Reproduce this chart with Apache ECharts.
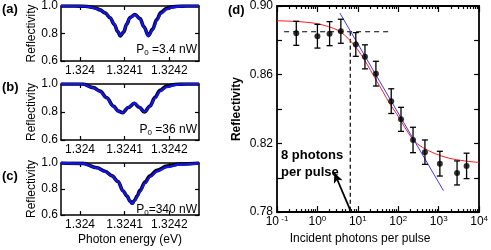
<!DOCTYPE html>
<html><head><meta charset="utf-8">
<script src="https://cdn.jsdelivr.net/npm/echarts@6/dist/echarts.min.js"></script>
<style>html,body{margin:0;padding:0;background:#fff}#c{width:491px;height:250px}</style>
</head><body><div id="c"></div>
<script>
// ---------- Panels (a)-(c): spectra ----------
const energyA = [1.3239574,1.3239888,1.3240112,1.3240224,1.3240336,1.3240448,1.3240560,1.3240672,1.3240768,1.3240844,1.3240903,1.3240979,1.3241046,1.3241120,1.3241232,1.3241344,1.3241433,1.3241530,1.3241628,1.3241718,1.3241814,1.3241942,1.3242060,1.3242195,1.3242374,1.3242665];
const fitA  = [1.0,1.0,0.997,0.993,0.984,0.971,0.952,0.917,0.869,0.817,0.785,0.814,0.869,0.915,0.936,0.905,0.845,0.781,0.826,0.893,0.945,0.976,0.989,0.996,1.0,1.0];
const measA = [1.0,1.0,0.998,0.994,0.986,0.972,0.950,0.915,0.866,0.814,0.783,0.812,0.868,0.916,0.938,0.908,0.848,0.784,0.832,0.902,0.955,0.984,0.994,0.998,1.0,1.0];

const energyB = [1.3239574,1.3240067,1.3240298,1.3240448,1.3240598,1.3240746,1.3240858,1.3240952,1.3241082,1.3241216,1.3241328,1.3241440,1.3241568,1.3241680,1.3241792,1.3241942,1.3242166,1.3242374,1.3242665];
const fitB  = [1.0,0.999,0.972,0.947,0.900,0.841,0.805,0.794,0.833,0.865,0.836,0.801,0.841,0.900,0.947,0.979,0.995,1.0,1.0];
const measB = [1.0,1.0,0.974,0.949,0.902,0.843,0.806,0.795,0.832,0.862,0.834,0.800,0.843,0.905,0.955,0.986,0.998,1.0,1.0];

const energyC = [1.3239574,1.3240067,1.3240381,1.3240560,1.3240717,1.3240851,1.3240963,1.3241053,1.3241120,1.3241171,1.3241221,1.3241277,1.3241344,1.3241456,1.3241568,1.3241725,1.3241948,1.3242240,1.3242665];
const fitC  = [1.0,0.996,0.962,0.935,0.900,0.858,0.785,0.746,0.708,0.688,0.708,0.740,0.780,0.844,0.893,0.935,0.969,0.988,0.998];
const measC = [1.0,0.997,0.963,0.936,0.901,0.858,0.786,0.745,0.707,0.690,0.712,0.745,0.790,0.854,0.902,0.944,0.976,0.992,1.0];

const energyTicks = [1.324, 1.3241, 1.3242];
const reflTicksLeft = [0.6, 0.8, 1.0];
const powerLabels = ['3.4', '36', '340'];

// ---------- Panel (d): saturation ----------
const photons = [0.3, 1.0, 2.0, 3.8, 8.9, 15, 28, 67, 117, 232, 457, 1070, 2850, 4900];
const refl    = [0.8841, 0.8824, 0.8839, 0.8853, 0.8776, 0.8704, 0.8606, 0.8446, 0.8340, 0.8220, 0.8149, 0.8082, 0.8028, 0.8069];
const reflErr = [0.0070, 0.0069, 0.0070, 0.0070, 0.0069, 0.0070, 0.0072, 0.0072, 0.0070, 0.0074, 0.0071, 0.0072, 0.0070, 0.0074];
const redFitX = [0.1, 0.3, 0.9, 1.88, 3.27, 4.73, 6.82, 9.9, 14.3, 20.7, 29.9, 43.4, 62.5, 90.6, 228, 397, 829, 1729, 4355, 10000];
const redFitY = [0.8914, 0.8910, 0.8899, 0.8880, 0.8858, 0.8830, 0.8793, 0.8746, 0.8690, 0.8625, 0.8560, 0.8494, 0.8429, 0.8373, 0.8224, 0.8177, 0.8140, 0.8115, 0.8098, 0.8089];
const blueFitX = [3.59, 1312];
const blueFitY = [0.8959, 0.7925];
const hDashX = [0.15, 57];
const hDashY = [0.885, 0.885];
const vDashX = [6.5, 6.5];
const vDashY = [0.885, 0.78];
const arrowFrom = [6.35, 0.7817];
const arrowTo = [2.62, 0.8029];
const logMajorTicks = [0.1, 1, 10, 100, 1000, 10000];
const logMinorTicks = [];
for (let d = -1; d <= 3; d++) for (let m = 2; m <= 9; m++) logMinorTicks.push(+(m * Math.pow(10, d)).toPrecision(3));

const FONT = '"Liberation Sans", Arial, sans-serif';
const E_MIN = 1.3239574, E_MAX = 1.3242665;

const leftGrids = [
  {left: 61, width: 138, top: 5, height: 56},
  {left: 61, width: 138, top: 84, height: 56},
  {left: 61, width: 138, top: 163, height: 52}
];
const grids = leftGrids.concat([{left: 277, right: 6, top: 5, bottom: 31}]);

const xAxes = [], yAxes = [];
leftGrids.forEach((g, i) => {
  const last = i === 2;
  xAxes.push({type: 'value', gridIndex: i, position: 'bottom', min: E_MIN, max: E_MAX,
    axisLine: {show: true, onZero: false, lineStyle: {color: '#000', width: 1.5}},
    axisTick: {show: true, inside: true, length: 4, customValues: energyTicks, lineStyle: {color: '#000', width: 1.2}},
    axisLabel: {show: true, customValues: energyTicks, formatter: v => String(+(+v).toFixed(4)), margin: 4, fontSize: 12, color: '#000', fontFamily: FONT},
    splitLine: {show: false},
    name: last ? 'Photon energy (eV)' : '', nameLocation: 'middle', nameGap: 19,
    nameTextStyle: {fontSize: 12, color: '#000', fontFamily: FONT}});
  xAxes.push({type: 'value', gridIndex: i, position: 'top', min: E_MIN, max: E_MAX,
    axisLine: {show: true, onZero: false, lineStyle: {color: '#000', width: 1.5}},
    axisTick: {show: true, inside: true, length: 4, customValues: energyTicks, lineStyle: {color: '#000', width: 1.2}},
    axisLabel: {show: false}, splitLine: {show: false}});
  yAxes.push({type: 'value', gridIndex: i, position: 'left', min: 0.6, max: 1.0,
    axisLine: {show: true, onZero: false, lineStyle: {color: '#000', width: 1.5}},
    axisTick: {show: true, inside: true, length: 4, customValues: reflTicksLeft, lineStyle: {color: '#000', width: 1.2}},
    axisLabel: {show: true, customValues: reflTicksLeft, formatter: v => (+v).toFixed(1), margin: 3, fontSize: 12, color: '#000', fontFamily: FONT},
    splitLine: {show: false},
    name: 'Reflectivity', nameLocation: 'middle', nameGap: 23,
    nameTextStyle: {fontSize: 12, color: '#000', fontFamily: FONT}});
  yAxes.push({type: 'value', gridIndex: i, position: 'right', min: 0.6, max: 1.0,
    axisLine: {show: true, onZero: false, lineStyle: {color: '#000', width: 1.5}},
    axisTick: {show: true, inside: true, length: 4, customValues: reflTicksLeft, lineStyle: {color: '#000', width: 1.2}},
    axisLabel: {show: false}, splitLine: {show: false}});
});

function logAxis(pos, minor, labels) {
  return {type: 'log', logBase: 10, gridIndex: 3, position: pos, min: 0.1, max: 10000, offset: 0,
    axisLine: {show: !minor, onZero: false, lineStyle: {color: '#000', width: 1.8}},
    axisTick: {show: true, inside: true, length: minor ? 3 : 6, customValues: minor ? logMinorTicks : logMajorTicks, lineStyle: {color: '#000', width: 1.2}},
    axisLabel: {show: labels, customValues: logMajorTicks, margin: 3, color: '#000', fontFamily: FONT,
      formatter: v => { const e = Math.round(Math.log10(v)); return '{b|10}{s|' + (e < 0 ? ' ' + e : e) + '}'; },
      rich: {b: {fontSize: 12, fontFamily: FONT, color: '#000'}, s: {fontSize: 8, fontFamily: FONT, color: '#000', verticalAlign: 'top', padding: [0, 0, 6, 0]}}},
    splitLine: {show: false}, minorTick: {show: false},
    name: labels ? 'Incident photons per pulse' : '', nameLocation: 'middle', nameGap: 18,
    nameTextStyle: {fontSize: 12, color: '#000', fontFamily: FONT, padding: [0, 36, 0, 0]}};
}
xAxes.push(logAxis('bottom', false, true));   // 6
xAxes.push(logAxis('bottom', true, false));   // 7
xAxes.push(logAxis('top', false, false));     // 8
xAxes.push(logAxis('top', true, false));      // 9

yAxes.push({type: 'value', gridIndex: 3, position: 'left', min: 0.78, max: 0.90, interval: 0.02,
  axisLine: {show: true, onZero: false, lineStyle: {color: '#000', width: 1.8}},
  axisTick: {show: true, inside: true, length: 5, lineStyle: {color: '#000', width: 1.2}},
  axisLabel: {show: true, margin: 4, fontSize: 12, color: '#000', fontFamily: FONT,
    formatter: v => (Math.round(v * 100) % 4 === 2 ? (+v).toFixed(2) : '')},
  splitLine: {show: false},
  name: 'Reflectivity', nameLocation: 'middle', nameGap: 34,
  nameTextStyle: {fontSize: 12, fontWeight: 'bold', color: '#000', fontFamily: FONT}});
yAxes.push({type: 'value', gridIndex: 3, position: 'right', min: 0.78, max: 0.90, interval: 0.02,
  axisLine: {show: true, onZero: false, lineStyle: {color: '#000', width: 1.8}},
  axisTick: {show: true, inside: true, length: 5, lineStyle: {color: '#000', width: 1.2}},
  axisLabel: {show: false}, splitLine: {show: false}});

const series = [];
const spectra = [[energyA, measA, fitA], [energyB, measB, fitB], [energyC, measC, fitC]];
spectra.forEach((s, i) => {
  series.push({type: 'line', xAxisIndex: 2 * i, yAxisIndex: 2 * i, data: s[0].map((e, k) => [e, s[1][k]]),
    showSymbol: false, smooth: 0.35, smoothMonotone: 'x', lineStyle: {color: '#000', width: 3.6}, z: 2, silent: true});
  series.push({type: 'line', xAxisIndex: 2 * i, yAxisIndex: 2 * i, data: s[0].map((e, k) => [e, s[2][k]]),
    showSymbol: false, smooth: 0.35, smoothMonotone: 'x', lineStyle: {color: '#1414e6', width: 2.4}, z: 3, silent: true});
});

series.push({type: 'line', xAxisIndex: 6, yAxisIndex: 6, data: redFitX.map((x, k) => [x, redFitY[k]]),
  showSymbol: false, smooth: 0.3, lineStyle: {color: '#ff1a1a', width: 1}, z: 2});
series.push({type: 'line', xAxisIndex: 6, yAxisIndex: 6, data: blueFitX.map((x, k) => [x, blueFitY[k]]),
  showSymbol: false, lineStyle: {color: '#3a3aff', width: 1}, z: 2});
series.push({type: 'line', xAxisIndex: 6, yAxisIndex: 6, data: hDashX.map((x, k) => [x, hDashY[k]]),
  showSymbol: false, lineStyle: {color: '#000', width: 1.2, type: [5, 4]}, z: 1});
series.push({type: 'line', xAxisIndex: 6, yAxisIndex: 6, data: vDashX.map((x, k) => [x, vDashY[k]]),
  showSymbol: false, lineStyle: {color: '#000', width: 1.2, type: [4, 3]}, z: 1,
  markLine: {silent: true, symbol: ['none', 'arrow'], symbolSize: [7, 10], label: {show: false},
    lineStyle: {color: '#000', width: 1.8, type: 'solid'},
    data: [[{coord: arrowFrom}, {coord: arrowTo}]]}});
series.push({type: 'custom', xAxisIndex: 6, yAxisIndex: 6,
  data: photons.map((x, k) => [x, refl[k] - reflErr[k], refl[k] + reflErr[k]]),
  encode: {x: 0, y: [1, 2]}, z: 4,
  renderItem: (params, api) => {
    const lo = api.coord([api.value(0), api.value(1)]);
    const hi = api.coord([api.value(0), api.value(2)]);
    const w = 3, st = {stroke: '#000', lineWidth: 1.3};
    return {type: 'group', children: [
      {type: 'line', shape: {x1: lo[0], y1: lo[1], x2: hi[0], y2: hi[1]}, style: st},
      {type: 'line', shape: {x1: lo[0] - w, y1: lo[1], x2: lo[0] + w, y2: lo[1]}, style: st},
      {type: 'line', shape: {x1: hi[0] - w, y1: hi[1], x2: hi[0] + w, y2: hi[1]}, style: st}
    ]};
  }});
series.push({type: 'scatter', xAxisIndex: 6, yAxisIndex: 6, data: photons.map((x, k) => [x, refl[k]]),
  symbol: 'circle', symbolSize: 6, itemStyle: {color: '#000'}, z: 5});

function boldText(text, left, top, extra) {
  return {type: 'text', left, top, style: Object.assign({text, fontFamily: FONT, fontSize: 13, fontWeight: 'bold', fill: '#000'}, extra || {})};
}
const graphic = [
  boldText('(a)', 2, 3),
  boldText('(b)', 2, 81),
  boldText('(c)', 2, 170),
  boldText('(d)', 228, 4),
  boldText('8 photons\nper pulse', 281, 147, {lineHeight: 17})
];
const p0Pos = [[197, 50], [197, 130], [197, 210]];
powerLabels.forEach((p, i) => {
  graphic.push({type: 'text', x: p0Pos[i][0], y: p0Pos[i][1],
    style: {text: '{n|P}{sub|0}{n|' + (i < 2 ? ' ' : '') + '=' + p + ' nW}', align: 'right', verticalAlign: 'middle',
      rich: {n: {fontSize: 12, fontFamily: FONT, fill: '#000'}, sub: {fontSize: 8, fontFamily: FONT, fill: '#000', verticalAlign: 'bottom', padding: [5, 0, 0, 0]}}}});
});

const chart = echarts.init(document.getElementById('c'), null, {renderer: 'canvas'});
chart.setOption({animation: false, backgroundColor: '#fff', grid: grids, xAxis: xAxes, yAxis: yAxes, series, graphic});
</script></body></html>
